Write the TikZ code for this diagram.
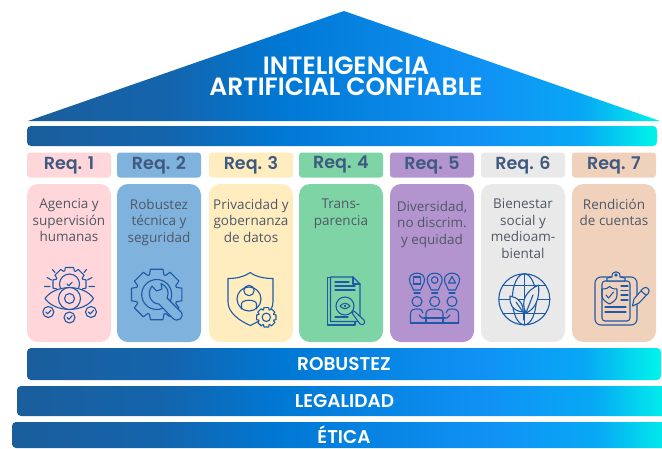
\documentclass[tikz,border=0pt]{standalone}
\usepackage{fontspec}
\setmainfont{Open Sans}
\newfontfamily\headfont{Poppins SemiBold}
\usepackage{tikz}
\definecolor{reqpink}{HTML}{FFD6D9}
\definecolor{reqblue}{HTML}{7FB2DC}
\definecolor{reqyellow}{HTML}{FFEDBF}
\definecolor{reqgreen}{HTML}{7FD4A6}
\definecolor{reqpurple}{HTML}{B394CE}
\definecolor{reqgray}{HTML}{E9E9E9}
\definecolor{reqpeach}{HTML}{F0D2BC}
\definecolor{reqtext}{HTML}{3F5A80}
\definecolor{cardtextcol}{HTML}{4F5866}
\definecolor{iconblue}{HTML}{1F5AA8}
\pgfdeclarehorizontalshading{housebar}{100bp}{color(0bp)=(black!0!white);
  color(0bp)=(rgb,255:red,26;green,94;blue,156);
  color(25bp)=(rgb,255:red,26;green,94;blue,156);
  color(36bp)=(rgb,255:red,20;green,100;blue,172);
  color(45bp)=(rgb,255:red,0;green,120;blue,212);
  color(61bp)=(rgb,255:red,16;green,146;blue,245);
  color(69bp)=(rgb,255:red,8;green,168;blue,245);
  color(75bp)=(rgb,255:red,0;green,245;blue,234);
  color(100bp)=(rgb,255:red,0;green,245;blue,234)}
\tikzstyle{bar} = [rectangle, rounded corners=4pt, inner sep=0pt, shading=housebar, text=white, font=\headfont\fontsize{18.5}{20}\selectfont]
\tikzstyle{reqbox} = [rectangle, rounded corners=3pt, inner sep=0pt, minimum width=84pt, minimum height=25pt, text=reqtext, font=\headfont\fontsize{17.5}{19}\selectfont]
\tikzstyle{card} = [rectangle, rounded corners=11pt, minimum width=84pt, minimum height=158pt]
\tikzstyle{cardtext} = [anchor=north, yshift=-15pt, inner sep=0pt, align=center, text=cardtextcol, font=\fontsize{13.5}{16.5}\selectfont]
\tikzstyle{iconline} = [draw=iconblue, line width=1.1pt, line join=round, line cap=round]
\newcommand{\gearshape}[5]{\draw[iconline, fill=#5, shift={(#1,#2)}] (-14:#3) \foreach \a in {0,45,...,315}{ -- (\a-14:#3) -- (\a+14:#3) -- (\a+20:#4) -- (\a+25:#4)} -- cycle;}
\newcommand{\checkcircle}[4]{\draw[iconline, fill=#4] (#1,#2) circle (#3);
  \draw[iconline] (#1-2.5,#2) -- (#1-0.7,#2+1.8) -- (#1+2.7,#2-1.8);}
\begin{document}
\begin{tikzpicture}[x=1pt, y=-1pt, node distance=91pt]
\useasboundingbox (0,0) rectangle (662,448);

\shade[shading=housebar] (28,121) -- (344,11) -- (660,121) -- cycle;
\node (title) [text=white, align=center, inner sep=0pt, font=\headfont\fontsize{25}{21}\selectfont] at (346,76) {INTELIGENCIA\\ARTIFICIAL CONFIABLE};
\node (beam) [bar, minimum width=630pt, minimum height=20pt] at (342,136) {};

\node (req1) [reqbox, fill=reqpink] at (69,165) {Req. 1};
\node (req2) [reqbox, fill=reqblue, right of=req1, xshift=-1pt] {Req. 2};
\node (req3) [reqbox, fill=reqyellow, right of=req2, xshift=1pt] {Req. 3};
\node (req4) [reqbox, fill=reqgreen, right of=req3, xshift=-1pt] {Req. 4};
\node (req5) [reqbox, fill=reqpurple, right of=req4] {Req. 5};
\node (req6) [reqbox, fill=reqgray, right of=req5] {Req. 6};
\node (req7) [reqbox, fill=reqpeach, right of=req6] {Req. 7};

\node (card1) [card, fill=reqpink, below of=req1, node distance=98pt] {};
\node (card2) [card, fill=reqblue, below of=req2, node distance=98pt] {};
\node (card3) [card, fill=reqyellow, below of=req3, node distance=98pt] {};
\node (card4) [card, fill=reqgreen, below of=req4, node distance=98pt] {};
\node (card5) [card, fill=reqpurple, below of=req5, node distance=98pt] {};
\node (card6) [card, fill=reqgray, below of=req6, node distance=98pt] {};
\node (card7) [card, fill=reqpeach, below of=req7, node distance=98pt] {};

\node (text1) [cardtext] at (card1.north) {Agencia y\\supervisión\\humanas};
\node (text2) [cardtext] at (card2.north) {Robustez\\técnica y\\seguridad};
\node (text3) [cardtext] at (card3.north) {Privacidad y\\gobernanza\\de datos};
\node (text4) [cardtext] at (card4.north) {Trans-\\parencia};
\node (text5) [cardtext, yshift=-2pt] at (card5.north) {Diversidad,\\no discrim.\\y equidad};
\node (text6) [cardtext] at (card6.north) {Bienestar\\social y\\medioam-\\biental};
\node (text7) [cardtext] at (card7.north) {Rendición\\de cuentas};

\node (robustez) [bar, minimum width=634pt, minimum height=32pt] at (344,364) {ROBUSTEZ};
\node (legalidad) [bar, minimum width=655pt, minimum height=30pt] at (344.5,401) {LEGALIDAD};
\node (etica) [bar, minimum width=664pt, minimum height=26pt] at (344,435) {\raisebox{-1pt}{ÉTICA}};

\begin{scope}[shift={(35,260)}]
\gearshape{34.5}{24}{17}{14}{reqpink}
\draw[iconline] (9.5,26.5) -- (15,26.5) (12,17.5) -- (16.5,20) (17.5,9.5) -- (20,12.5);
\draw[iconline] (54,26.5) -- (59.5,26.5) (52.5,20) -- (57,17.5) (49,12.5) -- (51.5,9.5);
\checkcircle{34.5}{24}{10}{reqpink}
\draw[iconline, fill=reqpink] (10,38.5) .. controls (20,24) and (49,24) .. (58.5,38.5) .. controls (49,53) and (20,53) .. (10,38.5) -- cycle;
\draw[iconline, fill=reqpink] (34.5,38.5) circle (11);
\draw[iconline] (34.5,38.5) circle (5);
\checkcircle{13.3}{52}{5.5}{reqpink}
\checkcircle{34.5}{57.5}{5.5}{reqpink}
\checkcircle{56}{52}{5.5}{reqpink}
\end{scope}

\begin{scope}[shift={(125,260)}]
\gearshape{31.7}{34.5}{26}{21}{reqblue}
\draw[iconline] (31.7,34.5) circle (15);
\draw[iconline, fill=reqblue] (48,58.5) -- (34,44) .. controls (26,44) and (21,34) .. (27,26) -- (31.5,31) -- (37,29) -- (36,23.5) .. controls (42,26) and (45,32) .. (42,38) -- (56,52) .. controls (60,57) and (53,63) .. (48,58.5) -- cycle;
\end{scope}

\begin{scope}[shift={(218,265)}]
\draw[iconline] (10,13.5) .. controls (18,13.5) and (26,12) .. (32.3,7.5) .. controls (38,12) and (47,13.5) .. (55,13.5) -- (55,37) .. controls (55,48) and (42,56) .. (32.3,60.5) .. controls (22,56) and (10,48) .. (10,37) -- cycle;
\draw[iconline] (31,34) circle (12);
\draw[iconline] (31,25.5) circle (5.2);
\draw[iconline] (23.5,44) -- (23.5,39) .. controls (23.5,34) and (38.5,34) .. (38.5,39) -- (38.5,44);
\gearshape{48.3}{52.3}{10}{8}{reqyellow}
\draw[iconline] (48.3,52.3) circle (4.2);
\end{scope}

\begin{scope}[shift={(310,265)}]
\draw[iconline] (20,12.5) -- (17.5,12.5) -- (17.5,60) -- (45,60) -- (45,57);
\draw[iconline, fill=reqgreen] (20.5,12) -- (43,12) -- (50,19) -- (50,56.5) -- (20.5,56.5) -- cycle;
\draw[iconline] (43,12) -- (43,19) -- (50,19);
\draw[iconline, line width=1.3pt] (25,17) -- (39,17) (25,21) -- (45,21) (25,25) -- (45,25) (25,52) -- (38,52);
\draw[iconline, fill=reqgreen] (35,41) circle (9);
\draw[iconline] (30,41) .. controls (33,37.5) and (37,37.5) .. (40,41) .. controls (37,44.5) and (33,44.5) .. (30,41) -- cycle;
\fill[iconblue] (35,41) circle (1.3);
\draw[iconline, fill=reqgreen] (42,48) -- (44,46) -- (54,55) .. controls (56,58) and (53,61) .. (50,59) -- cycle;
\end{scope}

\begin{scope}[shift={(398,265)}]
\foreach \bulbx in {19,36.7,54}{
  \draw[iconline] (\bulbx-3.5,25) .. controls (\bulbx-4,21) and (\bulbx-7.5,20) .. (\bulbx-7.5,14.5) .. controls (\bulbx-7.5,6) and (\bulbx+7.5,6) .. (\bulbx+7.5,14.5) .. controls (\bulbx+7.5,20) and (\bulbx+4,21) .. (\bulbx+3.5,25) -- cycle;
  \draw[iconline] (\bulbx-3,28) -- (\bulbx+3,28);
  \draw[iconline] (\bulbx,36.5) circle (5);
}
\draw[iconline] (15.5,12) rectangle (22.5,19);
\draw[iconline] (36.7,15) circle (3.3);
\draw[iconline] (54,11.5) -- (57.5,18) -- (50.5,18) -- cycle;
\draw[iconline] (21,50) -- (24,53) -- (27,53) (12.5,58) -- (12.5,49) .. controls (12.5,45) and (15,44) .. (19,44) .. controls (23,44) and (24.5,45) .. (25,48);
\draw[iconline] (28,52) -- (28,48) .. controls (28,45) and (32,44) .. (36.7,44) .. controls (41,44) and (45,45) .. (45,48) -- (45,52);
\draw[iconline] (48,48) .. controls (48.5,45) and (50,44) .. (54,44) .. controls (58,44) and (60.5,45) .. (60.5,49) -- (60.5,58) (52,50) -- (49,53) -- (46,53);
\draw[iconline] (12.5,58) -- (60.5,58) (26,53) -- (47,53) (28,53) -- (28,58) (45,53) -- (45,58);
\end{scope}

\begin{scope}[shift={(490,265)}]
\draw[iconline] (34.3,34.3) circle (25.5);
\draw[iconline] (34.3,34.3) ellipse (12 and 25.5);
\draw[iconline] (34.3,8.8) -- (34.3,59.8) (8.8,34.3) -- (59.8,34.3) (13,20.3) -- (55.6,20.3) (13,48.3) -- (55.6,48.3);
\draw[iconline] (34,47) -- (34,55);
\draw[iconline, fill=reqgray] (36,48) .. controls (30,36) and (36,26) .. (48.5,20) .. controls (50,32) and (46,44) .. (36,48) -- cycle;
\draw[iconline] (36,48) -- (43,30);
\draw[iconline, fill=reqgray] (33,47) .. controls (22,46) and (19,38) .. (20,31) .. controls (27,32) and (34,38) .. (33,47) -- cycle;
\draw[iconline] (33,47) -- (26,37);
\end{scope}

\begin{scope}[shift={(585,262)}]
\draw[iconline, rounded corners=6pt] (10,15) rectangle (52,63);
\draw[iconline, rounded corners=3pt, fill=reqpeach] (17,19) rectangle (45,59);
\draw[iconline, fill=reqpeach] (22,19) -- (22,16) -- (27,15) .. controls (26,8) and (36,8) .. (35,15) -- (40,16) -- (40,19) -- cycle;
\draw[iconline] (31,13) circle (1.2);
\draw[iconline] (17,27) .. controls (21,27) and (24,26) .. (24.5,24.5) .. controls (26,26) and (28,27) .. (32,27) -- (32,33) .. controls (32,38) and (28,40) .. (24.5,42) .. controls (21,40) and (17,38) .. (17,33) -- cycle;
\draw[iconline] (21,33) -- (23.5,36) -- (28.5,30);
\draw[iconline] (36,24) -- (43,24) (36,28.5) -- (43,28.5) (36,33) -- (43,33) (36,38) -- (43,38) (20,45) -- (41,45) (20,50) -- (41,50);
\draw[iconline, fill=reqpeach] (47.5,44) -- (49,37) -- (58,26.5) .. controls (61,23) and (66,28) .. (63.5,31) -- (54,41) -- cycle;
\draw[iconline] (56,29) -- (61.5,33.5);
\end{scope}
\end{tikzpicture}
\end{document}
